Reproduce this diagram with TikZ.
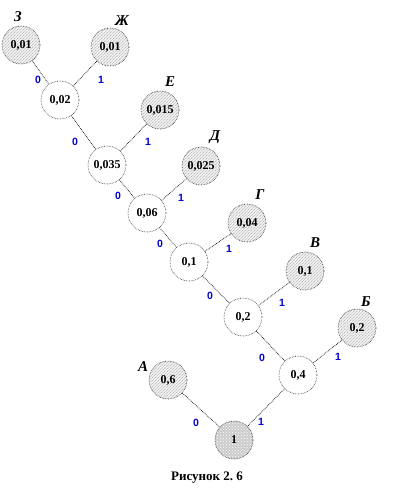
\documentclass[tikz,border=0pt]{standalone}
\usepackage{fontspec}
\setmainfont{Liberation Serif}
\newfontfamily\lsans{Liberation Sans}
\usetikzlibrary{patterns}
\tikzset{
  nd/.style={circle,minimum size=38pt,inner sep=0pt,draw=black!85,line width=0.6pt,densely dotted,
    font=\fontsize{12}{12}\selectfont\bfseries,text=black},
  inner/.style={nd,fill=white},
  leaf/.style={nd,preaction={fill=gray!12},pattern=north east lines,pattern color=gray!70},
  rootn/.style={nd,preaction={fill=gray!40},pattern=crosshatch dots,pattern color=white},
  edge/.style={densely dotted,line width=0.7pt,black},
  bit/.style={font=\lsans\fontsize{10.5}{10.5}\selectfont\bfseries,text=blue!80!black},
  let/.style={font=\fontsize{15}{15}\selectfont\bfseries\itshape}
}
\begin{document}
\begin{tikzpicture}[x=1pt,y=-1pt]
\useasboundingbox (0,0) rectangle (414,494);
% nodes
\node[leaf] (z) at (21,45) {0,01};
\node[leaf] (zh) at (110,47) {0,01};
\node[inner] (n002) at (60,100) {0,02};
\node[leaf] (e) at (160,110) {0,015};
\node[inner] (n0035) at (107,165) {0,035};
\node[leaf] (d) at (201,166) {0,025};
\node[inner] (n006) at (147,213) {0,06};
\node[leaf] (g) at (247,223) {0,04};
\node[inner] (n01) at (189,262) {0,1};
\node[leaf] (v) at (305,271) {0,1};
\node[inner] (n02) at (243,317) {0,2};
\node[leaf] (b) at (357,328) {0,2};
\node[inner] (n04) at (298,375) {0,4};
\node[leaf] (a) at (168,380) {0,6};
\node[rootn] (r) at (234,440) {1};
% edges
\draw[edge] (z) -- (n002);
\draw[edge] (zh) -- (n002);
\draw[edge] (n002) -- (n0035);
\draw[edge] (e) -- (n0035);
\draw[edge] (n0035) -- (n006);
\draw[edge] (d) -- (n006);
\draw[edge] (n006) -- (n01);
\draw[edge] (g) -- (n01);
\draw[edge] (n01) -- (n02);
\draw[edge] (v) -- (n02);
\draw[edge] (n02) -- (n04);
\draw[edge] (b) -- (n04);
\draw[edge] (a) -- (r);
\draw[edge] (n04) -- (r);
% letters
\node[let] (lz) at (18,17) {З};
\node[let] (lzh) at (122,21) {Ж};
\node[let] (le) at (170,82) {Е};
\node[let] (ld) at (215,137) {Д};
\node[let] (lg) at (260,195) {Г};
\node[let] (lv) at (315,243) {В};
\node[let] (lb) at (366,302) {Б};
\node[let] (la) at (143,367) {А};
% bits
\node[bit] (b1) at (38,80) {0};
\node[bit] (b2) at (101,80) {1};
\node[bit] (b3) at (75,142) {0};
\node[bit] (b4) at (148,142) {1};
\node[bit] (b5) at (118,196) {0};
\node[bit] (b6) at (181,198) {1};
\node[bit] (b7) at (160,244) {0};
\node[bit] (b8) at (229,249) {1};
\node[bit] (b9) at (210,296) {0};
\node[bit] (b10) at (282,303) {1};
\node[bit] (b11) at (262,358) {0};
\node[bit] (b12) at (338,357) {1};
\node[bit] (b13) at (196,423) {0};
\node[bit] (b14) at (261,422) {1};
% caption
\node[font=\fontsize{13}{13}\selectfont\bfseries] (cap) at (207,478) {Рисунок 2.~6};
\end{tikzpicture}
\end{document}
